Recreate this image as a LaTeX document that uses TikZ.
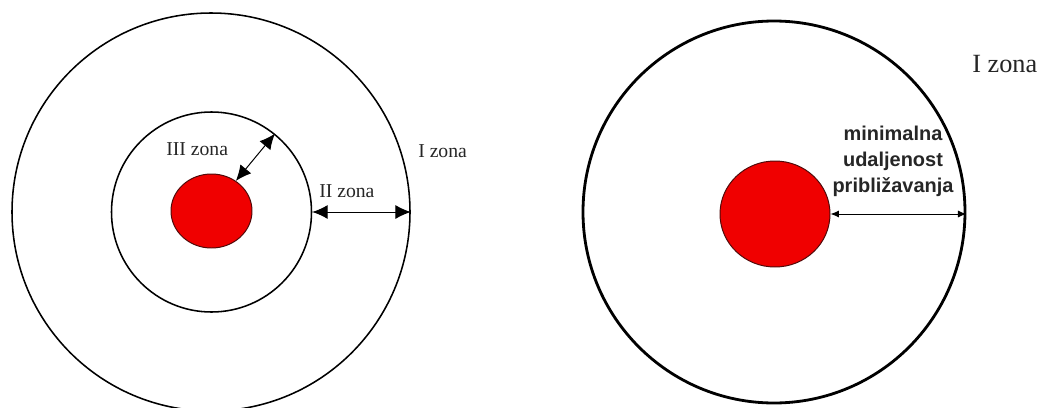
\documentclass[tikz,border=0pt]{standalone}
\usepackage{fontspec}
\setmainfont{Liberation Serif}
\setsansfont{Liberation Sans}
\usetikzlibrary{arrows.meta,shapes.geometric}
\definecolor{corered}{RGB}{240,0,0}
\definecolor{coreedge}{RGB}{80,10,10}

\begin{document}
\begin{tikzpicture}
    \tikzset{
        zone/.style={draw,circle,line width=1.1pt,inner sep=0pt,minimum size=#1},
        core/.style={draw=coreedge,fill=corered,ellipse,line width=0.7pt,inner sep=0pt},
        span/.style={{Latex[length=11pt,width=10pt]}-{Latex[length=11pt,width=10pt]},line width=0.7pt},
        lab/.style={inner sep=0pt,anchor=base west,text=black!85,font=\fontsize{14}{16}\selectfont}}
    \useasboundingbox (0,0) rectangle (26,10.175);
    % tri zone
    \node[zone=9.95cm] (outerL) at (5.275,4.875) {};
    \node[zone=5cm] (innerL) at (5.2875,4.875) {};
    \node[core,minimum width=2.025cm,minimum height=1.85cm] (coreL) at (5.2875,4.9) {};
    \draw[span] (coreL.51) -- (innerL.51);
    \draw[span] (innerL.east) -- (outerL.east);
    \node[lab] (zoneIII) at (4.15,6.3) {III zona};
    \node[lab] (zoneII) at (7.975,5.25) {II zona};
    \node[lab] (zoneI) at (10.45,6.25) {I zona};
    % minimalna udaljenost
    \node[zone=9.55cm,line width=2pt] (outerR) at (19.35,4.875) {};
    \node[core,minimum width=2.75cm,minimum height=2.65cm] (coreR) at (19.375,4.825) {};
    \draw[{Latex[length=6pt,width=5pt]}-{Latex[length=6pt,width=5pt]},line width=0.7pt] (coreR.east) -- (outerR.east |- coreR.east);
    \node[inner sep=0pt,anchor=north,align=center,text=black!85,
        font=\sffamily\bfseries\fontsize{14.2}{18.5}\selectfont] (gap) at (22.325,7.025)
        {minimalna\\udaljenost\\približavanja};
    \node[lab,font=\fontsize{18.7}{20}\selectfont] (zoneIR) at (24.3,8.375) {I zona};
\end{tikzpicture}
\end{document}
